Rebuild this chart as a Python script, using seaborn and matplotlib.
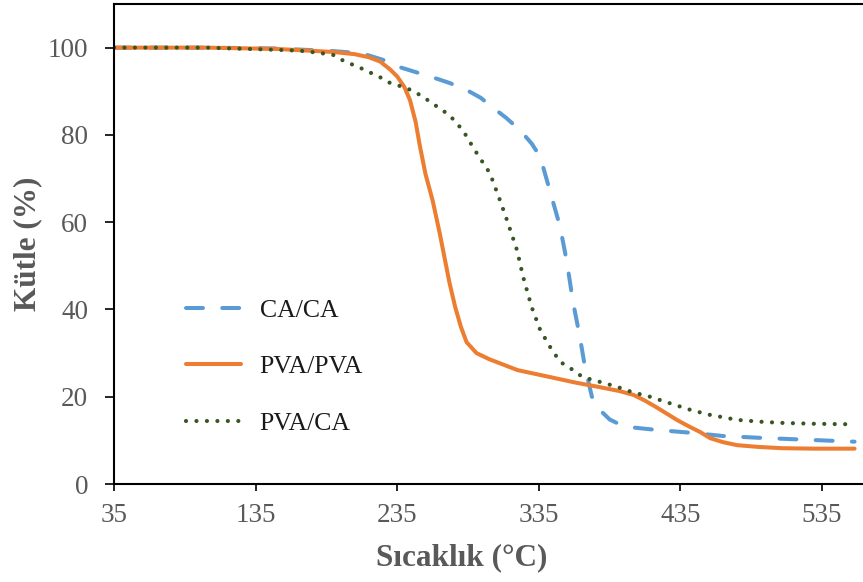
import matplotlib
matplotlib.use("Agg")
import matplotlib.pyplot as plt
import seaborn as sns
import pandas as pd

# ---- data ----
ca_ca_T = [35, 100, 150, 190, 210, 225, 237, 250, 260, 272, 284, 294, 302, 312, 322, 330, 336, 343,
           350, 355, 359, 364, 367.5, 372.5, 378, 385, 390, 400, 418, 444, 465, 490, 512, 535, 558]
ca_ca_M = [100, 100, 99.8, 99.2, 98.7, 97.2, 95.5, 94.2, 93.2, 91.9, 90.3, 88.5, 86.4, 83.9, 81, 78, 75, 67,
           59, 50.6, 42, 33.7, 27, 20, 17, 14.8, 14, 13, 12.4, 11.7, 11, 10.6, 10.3, 10.0, 9.7]

pva_pva_T = [35, 100, 150, 190, 205, 215, 223, 230, 235, 240, 244, 248, 251, 255, 260, 265, 272, 276, 280,
             284, 291, 300, 308, 320, 343, 360, 378, 392, 402, 410, 418, 425, 433, 441, 449, 456, 465, 475,
             490, 507, 530, 558]
pva_pva_M = [100, 100, 99.7, 99.0, 98.5, 97.8, 96.8, 95.0, 93.4, 91.0, 88.0, 83.0, 77.5, 71.0, 65.0, 57.5, 46.0,
             40.5, 36.0, 32.5, 30.0, 28.6, 27.6, 26.1, 24.5, 23.3, 22.2, 21.3, 20.4, 19.1, 17.6, 16.2, 14.6,
             13.2, 11.9, 10.5, 9.6, 8.9, 8.5, 8.2, 8.1, 8.1]

pva_ca_T = [35, 100, 150, 166, 180, 190, 197, 210, 223, 230, 242, 252, 260, 272, 281.5, 288.5, 292, 300.5,
            307.6, 312.5, 319.6, 324, 330, 336, 343, 350, 357, 366, 376, 390, 401.5, 413.5, 427.6, 442, 455,
            475, 490, 507, 530, 553]
pva_ca_M = [100, 100, 99.5, 99.3, 98.8, 98.3, 97.0, 95.2, 93.2, 91.9, 90.7, 89.0, 87.2, 84.5, 81.0, 77.2, 75.4,
            71.2, 65.0, 60.5, 53.6, 47.4, 40.5, 35.3, 31.4, 28.0, 26.6, 24.5, 23.6, 22.3, 21.0, 20.0, 18.5, 17.0,
            15.9, 14.7, 14.3, 14.0, 13.8, 13.7]

series_names = ["CA/CA", "PVA/PVA", "PVA/CA"]
x_ticks = [35, 135, 235, 335, 435, 535]
y_ticks = [0, 20, 40, 60, 80, 100]
x_label = "Sıcaklık (°C)"
y_label = "Kütle (%)"

# ---- styling ----
sns.set_style("white")
plt.rcParams["font.family"] = ["Liberation Serif", "DejaVu Serif"]

W, H = 863, 582
fig = plt.figure(figsize=(W / 100, H / 100), dpi=100)
ax_l, ax_r, ax_t, ax_b = 114, 863, 4, 484
ax = fig.add_axes([ax_l / W, (H - ax_b) / H, (ax_r - ax_l) / W, (ax_b - ax_t) / H])

blue = "#5B9BD5"
orange = "#ED7D31"
green = "#375623"

df_ca = pd.DataFrame({"T": ca_ca_T, "M": ca_ca_M})
df_pp = pd.DataFrame({"T": pva_pva_T, "M": pva_pva_M})
df_pc = pd.DataFrame({"T": pva_ca_T, "M": pva_ca_M})

sns.lineplot(data=df_ca, x="T", y="M", ax=ax, color=blue, lw=2.9, label=series_names[0],
             linestyle=(0, (4.2, 4.8)), dash_capstyle="round", solid_capstyle="round")
sns.lineplot(data=df_pp, x="T", y="M", ax=ax, color=orange, lw=2.9, label=series_names[1],
             solid_capstyle="round")
sns.lineplot(data=df_pc, x="T", y="M", ax=ax, color=green, lw=3.0, label=series_names[2],
             linestyle=(0, (0.01, 2.5)), dash_capstyle="round")

ax.set_xlim(35, 35 + (ax_r - ax_l) / 1.416)
ax.set_ylim(0, 110)
ax.set_xticks(x_ticks)
ax.set_yticks(y_ticks)

tick_color = "#595959"
ax.tick_params(axis="y", direction="out", length=6.5, width=1.2, color="black",
               labelsize=19.5, labelcolor=tick_color, pad=12, left=True)
ax.tick_params(axis="x", direction="out", length=5, width=1.2, color="black",
               labelsize=19.5, labelcolor=tick_color, pad=8.5, bottom=True)

for s in ["left", "bottom", "top"]:
    ax.spines[s].set_visible(True)
    ax.spines[s].set_color("black")
    ax.spines[s].set_linewidth(1.5)
ax.spines["right"].set_visible(False)

ax.set_xlabel(x_label, fontsize=22.5, fontweight="bold", color=tick_color)
ax.set_ylabel(y_label, fontsize=22.5, fontweight="bold", color=tick_color)
ax.xaxis.set_label_coords((462 - ax_l) / (ax_r - ax_l), (ax_b - 558) / (ax_b - ax_t))
ax.xaxis.label.set_verticalalignment("center")
ax.yaxis.set_label_coords((28 - ax_l) / (ax_r - ax_l), 0.5)
ax.yaxis.label.set_verticalalignment("center")

leg = ax.legend(loc="upper left", bbox_to_anchor=((186 - ax_l) / (ax_r - ax_l), (ax_b - 299) / (ax_b - ax_t)),
                frameon=False, fontsize=18.5, handlelength=2.15, handletextpad=0.72,
                labelspacing=1.3, borderpad=0, borderaxespad=0)
for t in leg.get_texts():
    t.set_color("#1a1a1a")

fig.savefig("out.png", dpi=100)
